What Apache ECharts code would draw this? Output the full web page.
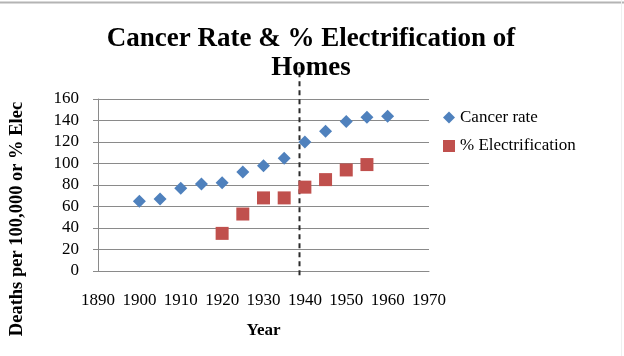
<!DOCTYPE html>
<html>
<head>
<meta charset="utf-8">
<script src="https://cdn.jsdelivr.net/npm/echarts@6/dist/echarts.min.js"></script>
<style>
  html, body { margin: 0; padding: 0; background: #ffffff; }
  #chart { width: 624px; height: 356px; }
</style>
</head>
<body>
<div id="chart"></div>
<script>
// ---- data ----
const cancerYears = [1900, 1905, 1910, 1915, 1920, 1925, 1930, 1935, 1940, 1945, 1950, 1955, 1960];
const cancerRate  = [65, 67, 77, 81, 82, 92, 98, 105, 120, 130, 139, 143, 144];
const elecYears   = [1920, 1925, 1930, 1935, 1940, 1945, 1950, 1955];
const elecPct     = [35, 53, 68, 68, 78, 85, 94, 99];
const dividerYear = 1938.5;
const dividerSpan = [-4, 189];   // vertical extent of the dashed marker, in y-axis units
const xTicks = { min: 1890, max: 1970, interval: 10 };
const yTicks = { min: 0, max: 160, interval: 20 };

const serif = '"Liberation Serif", "Times New Roman", serif';

const chart = echarts.init(document.getElementById('chart'), null, { renderer: 'canvas' });
chart.setOption({
  animation: false,
  backgroundColor: '#ffffff',
  title: {
    text: 'Cancer Rate & % Electrification of\nHomes',
    left: 311, textAlign: 'center',
    top: 25, padding: 0,
    textStyle: { fontFamily: serif, fontWeight: 'bold', fontSize: 27, lineHeight: 29, color: '#000' }
  },
  legend: {
    orient: 'vertical',
    left: 443, top: 109, padding: 0,
    itemWidth: 12, itemHeight: 12, itemGap: 11.5,
    data: ['Cancer rate', '% Electrification'],
    textStyle: { fontFamily: serif, fontSize: 17, lineHeight: 17, color: '#000' }
  },
  graphic: [
    { type: 'line', shape: { x1: 0, y1: 2.5, x2: 624, y2: 2.5 }, style: { stroke: '#b4b4b4', lineWidth: 2 }, silent: true },
    { type: 'line', shape: { x1: 621.5, y1: 0, x2: 621.5, y2: 356 }, style: { stroke: '#efefef', lineWidth: 1 }, silent: true }
  ],
  grid: { left: 95, right: 195, top: 99, bottom: 85 },
  xAxis: {
    type: 'value',
    min: xTicks.min, max: xTicks.max, interval: xTicks.interval,
    name: 'Year', nameLocation: 'middle', nameGap: 51,
    nameTextStyle: { fontFamily: serif, fontWeight: 'bold', fontSize: 17, color: '#000' },
    axisLine: { show: true, lineStyle: { color: '#8a8a8a', width: 1 } },
    axisTick: { show: false },
    splitLine: { show: false },
    axisLabel: { fontFamily: serif, fontSize: 17, color: '#000', margin: 21, formatter: v => String(v) }
  },
  yAxis: {
    type: 'value',
    min: yTicks.min, max: yTicks.max, interval: yTicks.interval,
    name: 'Deaths per 100,000 or % Elec', nameLocation: 'middle', nameGap: 71,
    nameTextStyle: { fontFamily: serif, fontWeight: 'bold', fontSize: 18.5, color: '#000', padding: [0, 68, 0, 0] },
    axisLine: { show: true, lineStyle: { color: '#8a8a8a', width: 1 } },
    axisTick: { show: true, length: 5, lineStyle: { color: '#8a8a8a' } },
    splitLine: { show: true, lineStyle: { color: '#8a8a8a', width: 1 } },
    axisLabel: { fontFamily: serif, fontSize: 17, color: '#000', margin: 19 }
  },
  series: [
    {
      name: 'divider',
      type: 'custom',
      z: 1,
      silent: true,
      data: [[dividerYear, dividerSpan[0], dividerSpan[1]]],
      encode: { x: 0, y: [1, 2] },
      renderItem: function (params, api) {
        const p0 = api.coord([api.value(0), api.value(1)]);
        const p1 = api.coord([api.value(0), api.value(2)]);
        return {
          type: 'line',
          shape: { x1: Math.round(p0[0]) + 0.5, y1: p0[1], x2: Math.round(p1[0]) + 0.5, y2: p1[1] },
          style: { stroke: '#2b2b2b', lineWidth: 2, lineDash: [5, 4] }
        };
      }
    },
    {
      name: 'Cancer rate',
      type: 'scatter',
      z: 3,
      symbol: 'diamond',
      symbolSize: 13,
      itemStyle: { color: '#4f81bd', opacity: 1 },
      data: cancerYears.map((y, i) => [y, cancerRate[i]])
    },
    {
      name: '% Electrification',
      type: 'scatter',
      z: 3,
      symbol: 'rect',
      symbolSize: 13,
      itemStyle: { color: '#c0504d', opacity: 1 },
      data: elecYears.map((y, i) => [y, elecPct[i]])
    }
  ]
});
</script>
</body>
</html>
